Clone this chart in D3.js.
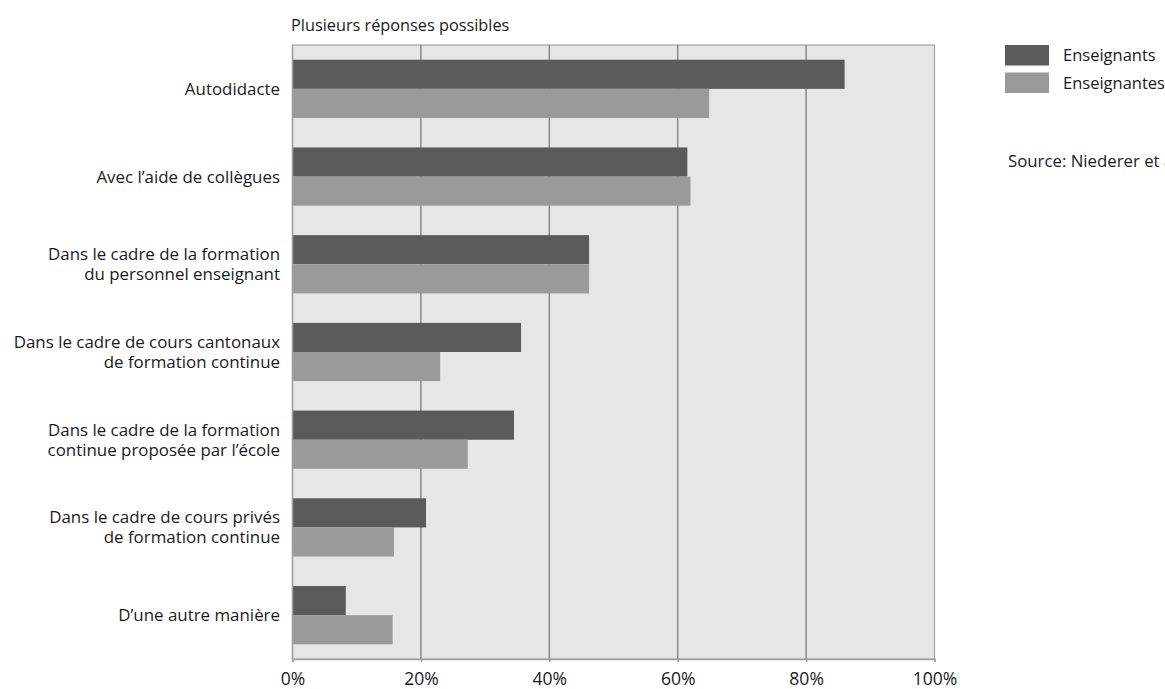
<!DOCTYPE html>
<html>
<head>
<meta charset="utf-8">
<script src="https://cdn.jsdelivr.net/npm/d3@7"></script>
<style>
  body { margin: 0; background: #fff; }
  text { font-family: "Open Sans", sans-serif; fill: #1a1a1a; }
</style>
</head>
<body>
<svg id="chart" width="1165" height="689"></svg>
<script>
var categories = [
  ['Autodidacte'],
  ['Avec l\u2019aide de collègues'],
  ['Dans le cadre de la formation', 'du personnel enseignant'],
  ['Dans le cadre de cours cantonaux', 'de formation continue'],
  ['Dans le cadre de la formation', 'continue proposée par l\u2019école'],
  ['Dans le cadre de cours privés', 'de formation continue'],
  ['D\u2019une autre manière']
]
var seriesNames = ['Enseignants', 'Enseignantes']
var enseignants = [86, 61.5, 46.2, 35.6, 34.5, 20.8, 8.3]
var enseignantes = [64.9, 62, 46.2, 23, 27.3, 15.8, 15.6]
var tickValues = [0, 20, 40, 60, 80, 100]
var colors = ['#5a5a5a', '#9a9a9a']

var svg = d3.select('svg#chart')
  , pLeft = 292.5, pRight = 934.5, pTop = 45, pBottom = 659

var x = d3.scaleLinear().domain([0, 100]).range([pLeft, pRight])
var y = d3.scaleBand().domain(d3.range(categories.length)).range([pTop, pBottom]).paddingInner(0.336).paddingOuter(0.168)
var ySub = d3.scaleBand().domain([0, 1]).range([0, y.bandwidth()])

// background + grid
svg.append('rect').attr('x', pLeft).attr('y', pTop).attr('width', pRight - pLeft).attr('height', pBottom - pTop)
  .attr('fill', '#e6e6e6').attr('stroke', '#a0a0a0').attr('stroke-width', 1.2)

svg.selectAll('line.grid').data(tickValues.slice(1, -1))
  .enter().append('line').attr('class', 'grid')
  .attr('x1', function(d) { return x(d) }).attr('x2', function(d) { return x(d) })
  .attr('y1', pTop).attr('y2', pBottom)
  .attr('stroke', '#8a8a8a').attr('stroke-width', 1.5)

// bars
var rows = categories.map(function(c, i) { return [enseignants[i], enseignantes[i]] })
var groups = svg.selectAll('g.row').data(rows).enter().append('g').attr('class', 'row')
  .attr('transform', function(d, i) { return 'translate(0,' + y(i) + ')' })
groups.selectAll('rect').data(function(d) { return d })
  .enter().append('rect')
  .attr('x', x(0))
  .attr('y', function(d, j) { return ySub(j) })
  .attr('width', function(d) { return x(d) - x(0) })
  .attr('height', ySub.bandwidth())
  .attr('fill', function(d, j) { return colors[j] })

// left border over bars
svg.append('line').attr('x1', pLeft).attr('x2', pLeft).attr('y1', pTop).attr('y2', pBottom + 3)
  .attr('stroke', '#a0a0a0').attr('stroke-width', 1.5)

// x axis
var xAxis = d3.axisBottom(x).tickValues(tickValues).tickSize(3)
  .tickFormat(function(d) { return d + '%' })
var ax = svg.append('g').attr('transform', 'translate(0,' + pBottom + ')').call(xAxis)
ax.select('.domain').attr('stroke', '#a0a0a0').attr('stroke-width', 1.5)
ax.selectAll('.tick line').attr('stroke', '#a0a0a0').attr('stroke-width', 1.5)
ax.selectAll('.tick text').attr('dy', null).attr('y', 26)
  .style('font-family', '"Open Sans", sans-serif').style('font-size', '17.5px').attr('fill', '#1a1a1a')

// category labels
var labels = svg.selectAll('text.cat').data(categories).enter().append('text').attr('class', 'cat')
  .attr('text-anchor', 'end').style('font-size', '16.9px')
  .attr('transform', function(d, i) { return 'translate(280,' + (y(i) + y.bandwidth() / 2) + ')' })
labels.selectAll('tspan').data(function(d) { return d })
  .enter().append('tspan')
  .attr('x', 0)
  .attr('y', function(t, k, nodes) { return (k - (nodes.length - 1) / 2) * 20 + 6 })
  .text(function(t) { return t })

// title
svg.append('text').attr('x', 291).attr('y', 31).style('font-size', '16.3px').text('Plusieurs réponses possibles')

// legend
var legend = svg.selectAll('g.legend').data(seriesNames).enter().append('g').attr('class', 'legend')
  .attr('transform', function(d, i) { return 'translate(1005,' + (45 + i * 27.5) + ')' })
legend.append('rect').attr('width', 44).attr('height', 20.5).attr('fill', function(d, i) { return colors[i] })
legend.append('text').attr('x', 58).attr('y', 16).style('font-size', '16.5px').text(function(d) { return d })

svg.append('text').attr('x', 1008).attr('y', 167).style('font-size', '16.8px').text('Source: Niederer et al.')
</script>
</body>
</html>
